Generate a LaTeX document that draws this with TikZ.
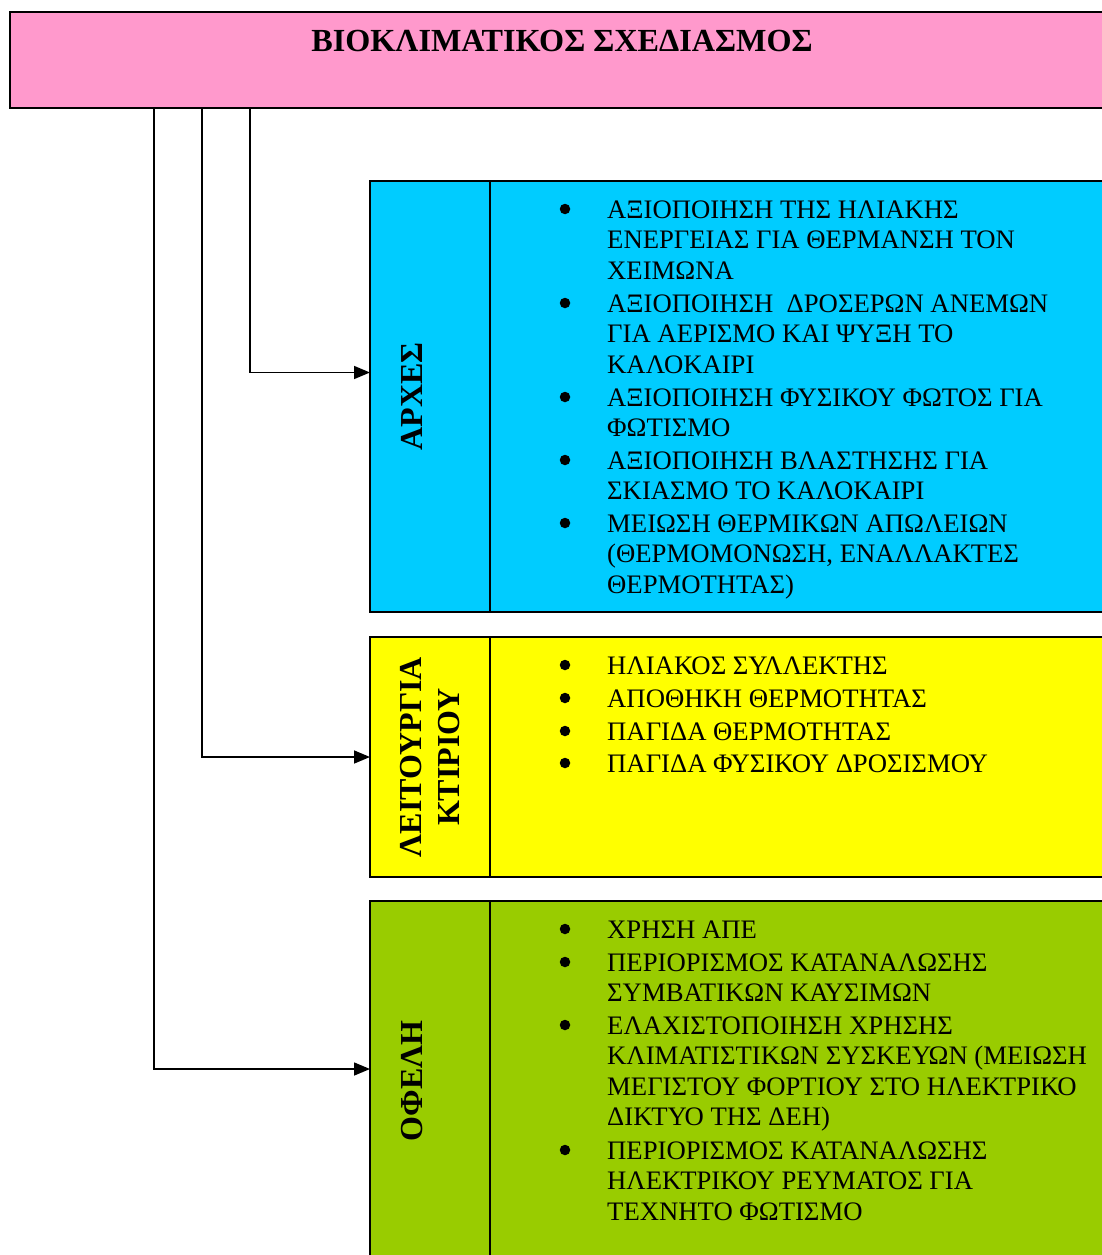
\documentclass[tikz,border=0pt]{standalone}
\usepackage{fontspec}
\setmainfont{Liberation Serif}
\usetikzlibrary{arrows.meta}

\definecolor{headpink}{HTML}{FF99CC}
\definecolor{boxblue}{HTML}{00CCFF}
\definecolor{boxyellow}{HTML}{FFFF00}
\definecolor{boxgreen}{HTML}{99CC00}

\tikzset{
  panel/.style={draw=black, line width=1.8pt, rectangle, inner sep=0pt, outer sep=0pt, anchor=north west},
  sidelabel/.style={rotate=90, anchor=base, inner sep=0pt, font=\fontsize{32}{38}\selectfont\bfseries},
  itemtext/.style={anchor=north west, inner sep=0pt, align=left, font=\fontsize{26.7}{30.5}\selectfont},
  bullet/.style={circle, fill=black, inner sep=0pt, minimum size=10.5pt},
  link/.style={line width=1.6pt, -{Triangle[length=16pt, width=13pt]}},
}

\begin{document}
\begin{tikzpicture}[x=1pt, y=-1pt]
\clip (0,0) rectangle (1102,1255);
\fill[white] (0,0) rectangle (1102,1255);

% header
\node[panel, fill=headpink, minimum width=1104pt, minimum height=96pt] (head) at (10,12) {};
\node[anchor=base, inner sep=0pt, font=\fontsize{32.2}{36}\selectfont\bfseries] (title) at (562,52) {ΒΙΟΚΛΙΜΑΤΙΚΟΣ ΣΧΕΔΙΑΣΜΟΣ};

% three panels
\node[panel, fill=boxblue, minimum width=744pt, minimum height=431pt] (arxes) at (370,181) {};
\node[panel, fill=boxyellow, minimum width=744pt, minimum height=240pt] (leit) at (370,637) {};
\node[panel, fill=boxgreen, minimum width=744pt, minimum height=361pt] (ofeli) at (370,901) {};

% column dividers
\draw[line width=1.8pt] ([xshift=120pt]arxes.north west) -- ([xshift=120pt]arxes.south west);
\draw[line width=1.8pt] ([xshift=120pt]leit.north west) -- ([xshift=120pt]leit.south west);
\draw[line width=1.8pt] ([xshift=120pt]ofeli.north west) -- ([xshift=120pt]ofeli.south west);

% side labels
\node[sidelabel] (lbla) at (422,396.5) {ΑΡΧΕΣ};
\node[rotate=90, anchor=center, inner sep=0pt, align=center, font=\fontsize{32}{38}\selectfont\bfseries] (lblb) at (430.5,757) {ΛΕΙΤΟΥΡΓΙΑ\\ΚΤΙΡΙΟΥ};
\node[sidelabel] (lblc) at (422,1081) {ΟΦΕΛΗ};

% connectors from the header
\draw[link] ([xshift=240pt]head.south west) |- ([yshift=24pt]arxes.west);
\draw[link] ([xshift=192pt]head.south west) |- (leit.west);
\draw[link] ([xshift=144pt]head.south west) |- ([yshift=12.5pt]ofeli.west);

% principles
\node[bullet] (ba1) at (565,209) {};
\node[itemtext] (ia1) at (607,196.6) {\strut ΑΞΙΟΠΟΙΗΣΗ ΤΗΣ ΗΛΙΑΚΗΣ\\ΕΝΕΡΓΕΙΑΣ ΓΙΑ ΘΕΡΜΑΝΣΗ ΤΟΝ\\ΧΕΙΜΩΝΑ};
\node[bullet] (ba2) at (565,303) {};
\node[itemtext] (ia2) at (607,290.6) {\strut ΑΞΙΟΠΟΙΗΣΗ \ ΔΡΟΣΕΡΩΝ ΑΝΕΜΩΝ\\ΓΙΑ ΑΕΡΙΣΜΟ ΚΑΙ ΨΥΞΗ ΤΟ\\ΚΑΛΟΚΑΙΡΙ};
\node[bullet] (ba3) at (565,397) {};
\node[itemtext] (ia3) at (607,384.6) {\strut ΑΞΙΟΠΟΙΗΣΗ ΦΥΣΙΚΟΥ ΦΩΤΟΣ ΓΙΑ\\ΦΩΤΙΣΜΟ};
\node[bullet] (ba4) at (565,460) {};
\node[itemtext] (ia4) at (607,447.6) {\strut ΑΞΙΟΠΟΙΗΣΗ ΒΛΑΣΤΗΣΗΣ ΓΙΑ\\ΣΚΙΑΣΜΟ ΤΟ ΚΑΛΟΚΑΙΡΙ};
\node[bullet] (ba5) at (565,523) {};
\node[itemtext] (ia5) at (607,510.6) {\strut ΜΕΙΩΣΗ ΘΕΡΜΙΚΩΝ ΑΠΩΛΕΙΩΝ\\(ΘΕΡΜΟΜΟΝΩΣΗ, ΕΝΑΛΛΑΚΤΕΣ\\ΘΕΡΜΟΤΗΤΑΣ)};

% building operation
\node[bullet] (bb1) at (565,665) {};
\node[itemtext] (ib1) at (607,652.6) {\strut ΗΛΙΑΚΟΣ ΣΥΛΛΕΚΤΗΣ};
\node[bullet] (bb2) at (565,698) {};
\node[itemtext] (ib2) at (607,685.6) {\strut ΑΠΟΘΗΚΗ ΘΕΡΜΟΤΗΤΑΣ};
\node[bullet] (bb3) at (565,731) {};
\node[itemtext] (ib3) at (607,718.6) {\strut ΠΑΓΙΔΑ ΘΕΡΜΟΤΗΤΑΣ};
\node[bullet] (bb4) at (565,763) {};
\node[itemtext] (ib4) at (607,750.6) {\strut ΠΑΓΙΔΑ ΦΥΣΙΚΟΥ ΔΡΟΣΙΣΜΟΥ};

% benefits
\node[bullet] (bc1) at (565,929) {};
\node[itemtext] (ic1) at (607,916.6) {\strut ΧΡΗΣΗ ΑΠΕ};
\node[bullet] (bc2) at (565,962) {};
\node[itemtext] (ic2) at (607,949.6) {\strut ΠΕΡΙΟΡΙΣΜΟΣ ΚΑΤΑΝΑΛΩΣΗΣ\\ΣΥΜΒΑΤΙΚΩΝ ΚΑΥΣΙΜΩΝ};
\node[bullet] (bc3) at (565,1025) {};
\node[itemtext] (ic3) at (607,1012.6) {\strut ΕΛΑΧΙΣΤΟΠΟΙΗΣΗ ΧΡΗΣΗΣ\\ΚΛΙΜΑΤΙΣΤΙΚΩΝ ΣΥΣΚΕΥΩΝ (ΜΕΙΩΣΗ\\ΜΕΓΙΣΤΟΥ ΦΟΡΤΙΟΥ ΣΤΟ ΗΛΕΚΤΡΙΚΟ\\ΔΙΚΤΥΟ ΤΗΣ ΔΕΗ)};
\node[bullet] (bc4) at (565,1150) {};
\node[itemtext] (ic4) at (607,1137.6) {\strut ΠΕΡΙΟΡΙΣΜΟΣ ΚΑΤΑΝΑΛΩΣΗΣ\\ΗΛΕΚΤΡΙΚΟΥ ΡΕΥΜΑΤΟΣ ΓΙΑ\\ΤΕΧΝΗΤΟ ΦΩΤΙΣΜΟ};
\end{tikzpicture}
\end{document}
